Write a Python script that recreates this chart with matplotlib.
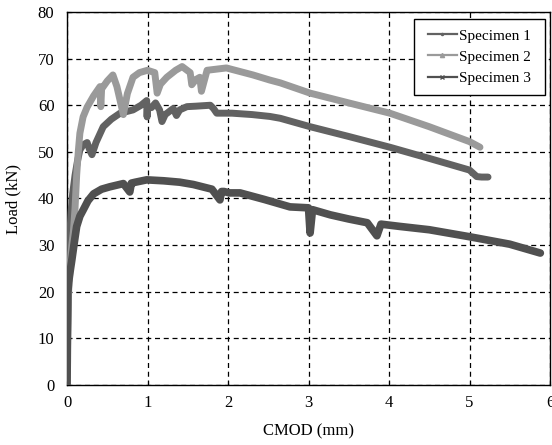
import matplotlib
matplotlib.use("Agg")
import matplotlib.pyplot as plt
from matplotlib.lines import Line2D
from matplotlib.patches import Rectangle

plt.rcParams['font.family'] = ['Liberation Serif', 'DejaVu Serif']

# Specimen 1 (CMOD mm, Load kN)
s1_x = [0.0, 0.005, 0.01, 0.02, 0.035, 0.05, 0.07, 0.1, 0.13, 0.16, 0.2, 0.25, 0.28, 0.31,
        0.36, 0.45, 0.55, 0.66, 0.82, 0.92, 0.99, 0.995, 1.0, 1.05, 1.1, 1.15, 1.18, 1.22,
        1.32, 1.36, 1.4, 1.49, 1.6, 1.78, 1.82, 1.86, 2.05, 2.3, 2.52, 2.65, 3.02, 3.5,
        4.01, 4.5, 5.0, 5.09, 5.15, 5.23]
s1_y = [0.0, 8.0, 15.0, 24.0, 32.0, 37.0, 41.0, 45.0, 48.0, 50.4, 51.5, 52.0, 50.5, 49.4,
        52.0, 55.4, 57.0, 58.3, 59.0, 60.0, 61.0, 57.5, 59.5, 59.5, 60.5, 59.0, 56.5, 58.0,
        59.3, 57.8, 59.0, 59.7, 59.8, 60.0, 59.3, 58.3, 58.3, 58.0, 57.6, 57.2, 55.4, 53.3,
        51.0, 48.6, 46.1, 44.7, 44.6, 44.6]

# Specimen 2
s2_x = [0.0, 0.005, 0.01, 0.02, 0.04, 0.06, 0.08, 0.1, 0.12, 0.14, 0.16, 0.2, 0.25, 0.33,
        0.41, 0.42, 0.43, 0.5, 0.57, 0.62, 0.66, 0.7, 0.75, 0.82, 0.9, 1.0, 1.09, 1.12,
        1.16, 1.24, 1.35, 1.43, 1.53, 1.55, 1.6, 1.65, 1.67, 1.74, 1.98, 2.31, 2.52, 2.65,
        3.02, 3.5, 4.01, 4.5, 5.0, 5.13]
s2_y = [0.0, 6.0, 12.0, 20.0, 26.0, 30.0, 33.0, 38.0, 45.0, 50.0, 54.0, 57.5, 59.6, 62.0,
        64.0, 59.7, 63.5, 65.2, 66.5, 64.0, 61.0, 58.0, 62.5, 66.0, 67.0, 67.5, 67.0, 62.6,
        64.5, 66.0, 67.5, 68.3, 67.0, 64.4, 65.5, 66.0, 63.0, 67.5, 68.0, 66.5, 65.4, 64.8,
        62.6, 60.5, 58.3, 55.4, 52.2, 51.0]

# Specimen 3
s3_x = [0.0, 0.003, 0.006, 0.01, 0.02, 0.04, 0.06, 0.09, 0.12, 0.16, 0.2, 0.26, 0.33, 0.43,
        0.53, 0.7, 0.78, 0.8, 0.85, 0.99, 1.2, 1.4, 1.57, 1.8, 1.9, 1.92, 1.95, 2.02, 2.15,
        2.45, 2.77, 3.0, 3.02, 3.05, 3.27, 3.5, 3.73, 3.85, 3.9, 4.14, 4.5, 5.0, 5.5, 5.88]
s3_y = [0.0, 5.0, 12.0, 19.7, 22.0, 24.5, 26.8, 30.5, 34.0, 36.2, 37.5, 39.5, 41.0, 42.0,
        42.5, 43.2, 41.4, 43.3, 43.5, 44.0, 43.8, 43.5, 43.0, 42.0, 39.7, 41.5, 41.5, 41.2, 41.2,
        39.8, 38.2, 38.0, 32.6, 37.6, 36.5, 35.6, 34.8, 32.0, 34.5, 34.0, 33.3, 31.8, 30.2, 28.3]

names = ['Specimen 1', 'Specimen 2', 'Specimen 3']
x_ticks = [0, 1, 2, 3, 4, 5, 6]
y_ticks = [0, 10, 20, 30, 40, 50, 60, 70, 80]

colors = ['#626262', '#9a9a9a', '#505050']
markers = ['.', '^', 'x']
widths = [5.0, 5.0, 5.5]

W, H = 552, 445
fig = plt.figure(figsize=(W / 100, H / 100), dpi=100)
ax = fig.add_axes([67 / W, 1 - 385 / H, (550 - 67) / W, (385 - 12) / H])

for xs, ys, c, lw in [(s1_x, s1_y, colors[0], widths[0]),
                      (s2_x, s2_y, colors[1], widths[1]),
                      (s3_x, s3_y, colors[2], widths[2])]:
    ax.plot(xs, ys, color=c, lw=lw, solid_joinstyle='round', solid_capstyle='round', zorder=3)

ax.set_xlim(0, 6)
ax.set_ylim(0, 80)
ax.set_xticks(x_ticks)
ax.set_yticks(y_ticks)
ax.tick_params(direction='in', length=3, labelsize=12, width=0.8)
ax.tick_params(axis='x', pad=7)
ax.tick_params(axis='y', pad=9)
ax.grid(True, color='black', linestyle=(0, (4, 3)), linewidth=0.9)
ax.set_axisbelow(True)
for sp in ax.spines.values():
    sp.set_linewidth(1.0)

ax.set_xlabel('CMOD (mm)', fontsize=12, va='top')
ax.xaxis.set_label_coords(0.5, -0.103)
ax.set_ylabel('Load (kN)', fontsize=12)
ax.yaxis.set_label_coords(-0.094, 0.5)

handles = [Line2D([0], [0], color=colors[i], lw=1.6, marker=markers[i], markersize=3)
           for i in range(3)]
leg = ax.legend(handles, names, loc='center',
                bbox_to_anchor=(479.5 / W, 1 - 57 / H), bbox_transform=fig.transFigure,
                fontsize=11, frameon=False,
                handlelength=1.9, handletextpad=0.15, borderpad=0.2, labelspacing=0.5)
leg.set_zorder(6)
frame = Rectangle((414 / W, 1 - 95 / H), (545 - 414) / W, (95 - 19) / H,
                  transform=fig.transFigure, facecolor='white', edgecolor='black',
                  linewidth=1.0, zorder=5)
ax.add_artist(frame)
frame.set_clip_on(False)

fig.savefig('out.png', dpi=100)
